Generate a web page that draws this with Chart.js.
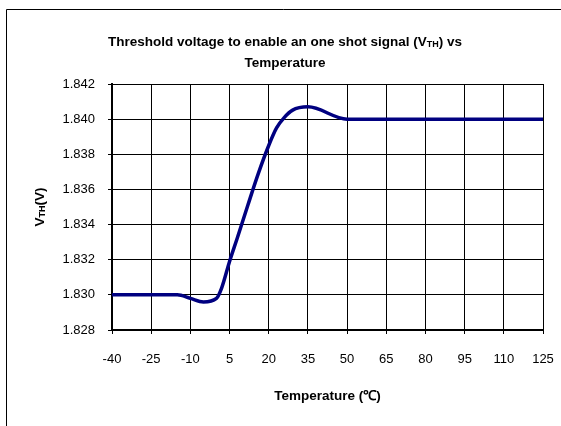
<!DOCTYPE html>
<html>
<head>
<meta charset="utf-8">
<script src="https://cdn.jsdelivr.net/npm/chart.js@4"></script>
<style>
  html, body { margin: 0; padding: 0; background: #fff; }
  #wrap { position: relative; width: 561px; height: 426px; }
</style>
</head>
<body>
<div id="wrap"><canvas id="vthChart" width="561" height="426"></canvas></div>
<script>
// temperature (°C) and threshold voltage (V)
const temps = [-40, -25, -15, -10, -5, 0, 2, 5, 8, 12, 16, 20, 23, 26, 29, 35, 50, 65, 80, 95, 110, 125];
const vth = [1.830, 1.830, 1.830, 1.8298, 1.8296, 1.8298, 1.8304, 1.8319, 1.83325, 1.8351, 1.8369,
  1.8385, 1.8395, 1.8401, 1.8405, 1.8407, 1.8400, 1.8400, 1.8400, 1.8400, 1.8400, 1.8400];

const xMin = -40, xMax = 125, xStep = 15;
const yMin = 1.828, yMax = 1.842, yStep = 0.002;

const FONT = "'Liberation Sans', Arial, sans-serif";

// draw text with subscript parts, centered on (x, y)
function drawRich(ctx, parts, x, y, size) {
  const base = "bold " + size + "px " + FONT;
  const small = "bold " + Math.round(size * 0.7) + "px " + FONT;
  let total = 0;
  parts.forEach((p) => {
    ctx.font = p.sub ? small : base;
    p.w = ctx.measureText(p.t).width;
    total += p.w;
  });
  let cx = x - total / 2;
  ctx.textAlign = "left";
  ctx.textBaseline = "middle";
  parts.forEach((p) => {
    ctx.font = p.sub ? small : base;
    ctx.fillText(p.t, cx, p.sub ? y + 3 : y);
    cx += p.w;
  });
}

const labelsPlugin = {
  id: "labels",
  beforeDraw(chart) {
    const ctx = chart.ctx;
    ctx.save();
    // outer frame (left + top)
    ctx.strokeStyle = "#000";
    ctx.lineWidth = 1;
    ctx.beginPath();
    ctx.moveTo(6.5, 426);
    ctx.lineTo(6.5, 9.5);
    ctx.lineTo(561, 9.5);
    ctx.stroke();
    ctx.restore();
  },
  afterDraw(chart) {
    const ctx = chart.ctx;
    const area = chart.chartArea;
    ctx.save();
    ctx.fillStyle = "#000";
    // title
    drawRich(ctx, [
      { t: "Threshold voltage to enable an one shot signal (V" },
      { t: "TH", sub: true },
      { t: ") vs" }
    ], 285, 42, 13.5);
    drawRich(ctx, [{ t: "Temperature" }], 285, 63, 13.5);
    // x axis title
    drawRich(ctx, [{ t: "Temperature (℃)" }], (area.left + area.right) / 2, 396, 13.5);
    // y axis title
    ctx.translate(40, (area.top + area.bottom) / 2);
    ctx.rotate(-Math.PI / 2);
    drawRich(ctx, [{ t: "V" }, { t: "TH", sub: true }, { t: "(V)" }], 0, 0, 13.5);
    ctx.restore();
  }
};

new Chart(document.getElementById("vthChart"), {
  type: "line",
  data: {
    datasets: [
      {
        data: temps.map((t, i) => ({ x: t, y: vth[i] })),
        borderColor: "#000080",
        borderWidth: 3.5,
        pointRadius: 0,
        fill: false,
        cubicInterpolationMode: "monotone",
      },
    ],
  },
  options: {
    responsive: false,
    animation: false,
    layout: { padding: { top: 84, right: 18, left: 0, bottom: 0 } },
    plugins: {
      legend: { display: false },
      title: { display: false },
      tooltip: { enabled: false },
    },
    scales: {
      x: {
        type: "linear",
        min: xMin,
        max: xMax,
        ticks: {
          stepSize: xStep,
          color: "#000",
          font: { family: FONT, size: 13 },
          padding: 18,
          maxRotation: 0,
        },
        grid: { color: "#000", lineWidth: 1, tickLength: 4, tickColor: "#000" },
        border: { color: "#000", width: 2 },
        afterFit(scale) {
          scale.height = 96;
          scale.paddingLeft = 0;
          scale.paddingRight = 0;
        },
      },
      y: {
        min: yMin,
        max: yMax,
        ticks: {
          stepSize: yStep,
          color: "#000",
          font: { family: FONT, size: 13 },
          padding: 13,
          callback: (v) => v.toFixed(3),
        },
        grid: { color: "#000", lineWidth: 1, tickLength: 4, tickColor: "#000" },
        border: { color: "#000", width: 2 },
        afterFit(scale) {
          scale.width = 112;
          scale.paddingTop = 0;
          scale.paddingBottom = 0;
        },
      },
    },
  },
  plugins: [labelsPlugin],
});
</script>
</body>
</html>
